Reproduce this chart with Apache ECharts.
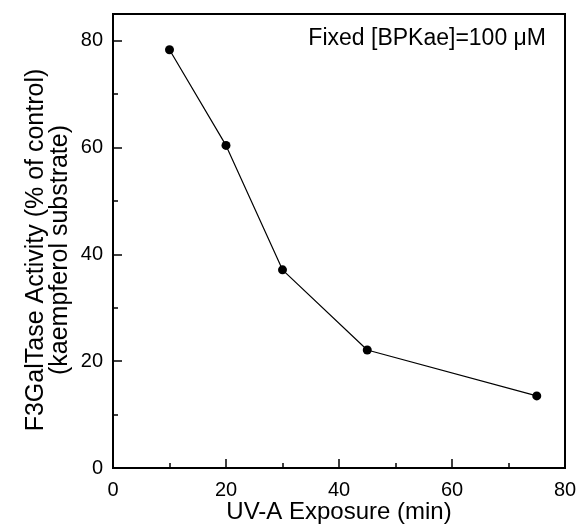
<!DOCTYPE html>
<html><head><meta charset="utf-8">
<script src="https://cdn.jsdelivr.net/npm/echarts@6/dist/echarts.min.js"></script>
<style>html,body{margin:0;padding:0;background:#fff}#c{width:577px;height:525px}</style>
</head><body><div id="c"></div>
<script>
const exposure = [10, 20, 30, 45, 75];
const activity = [78.3, 60.4, 37.1, 22.1, 13.5];
const xTicks = [0, 20, 40, 60, 80];
const yTicks = [0, 20, 40, 60, 80];
const xName = 'UV-A Exposure (min)';
const yName = 'F3GalTase Activity (% of control)\n(kaempferol substrate)';
const note = 'Fixed [BPKae]=100 μM';

const font = 'Liberation Sans, Arial, sans-serif';
const black = '#000';
const lineW = 1.5;
const chart = echarts.init(document.getElementById('c'));

function majorAxis(min, max) {
  return {
    type: 'value', min: min, max: max, interval: 20,
    axisLine: {show: false},
    axisTick: {show: true, inside: true, length: 9, lineStyle: {color: black, width: lineW}},
    axisLabel: {show: false},
    splitLine: {show: false}
  };
}

chart.setOption({
  animation: false,
  grid: {left: 113, right: 12, top: 14, bottom: 57, show: true, borderColor: black, borderWidth: 2,
         containLabel: false, outerBoundsMode: 'none'},
  xAxis: [{
    type: 'value', min: 0, max: 80, interval: 10,
    name: xName, nameLocation: 'middle', nameGap: 32, nameMoveOverlap: false,
    nameTextStyle: {fontFamily: font, fontSize: 24, color: black},
    axisLine: {show: true, lineStyle: {color: black, width: 2}},
    axisTick: {show: true, inside: true, length: 5, lineStyle: {color: black, width: lineW}},
    axisLabel: {fontFamily: font, fontSize: 20, color: black, margin: 12,
      formatter: v => xTicks.includes(v) ? String(v) : ''},
    splitLine: {show: false}
  }, Object.assign(majorAxis(0, 80), {position: 'bottom'})],
  yAxis: [{
    type: 'value', min: 0, max: 85, interval: 10,
    name: yName, nameLocation: 'middle', nameGap: 41, nameRotate: 90, nameMoveOverlap: false,
    nameTextStyle: {fontFamily: font, fontSize: 25, color: black, lineHeight: 24, padding: [0, 18, 0, 0]},
    axisLine: {show: true, lineStyle: {color: black, width: 2}},
    axisTick: {show: true, inside: true, length: 5, lineStyle: {color: black, width: lineW}},
    axisLabel: {fontFamily: font, fontSize: 20, color: black, margin: 10, showMaxLabel: false,
      formatter: v => yTicks.includes(v) ? String(v) : ''},
    splitLine: {show: false}
  }, Object.assign(majorAxis(0, 85), {position: 'left'})],
  graphic: [{
    type: 'text', right: 31, top: 27,
    style: {text: note, font: '23px ' + font, fill: black}
  }],
  series: [{
    type: 'line',
    xAxisIndex: 0, yAxisIndex: 0,
    data: exposure.map((x, i) => [x, activity[i]]),
    symbol: 'circle', symbolSize: 9,
    itemStyle: {color: black},
    lineStyle: {color: black, width: 1.2}
  }]
});
</script></body></html>
